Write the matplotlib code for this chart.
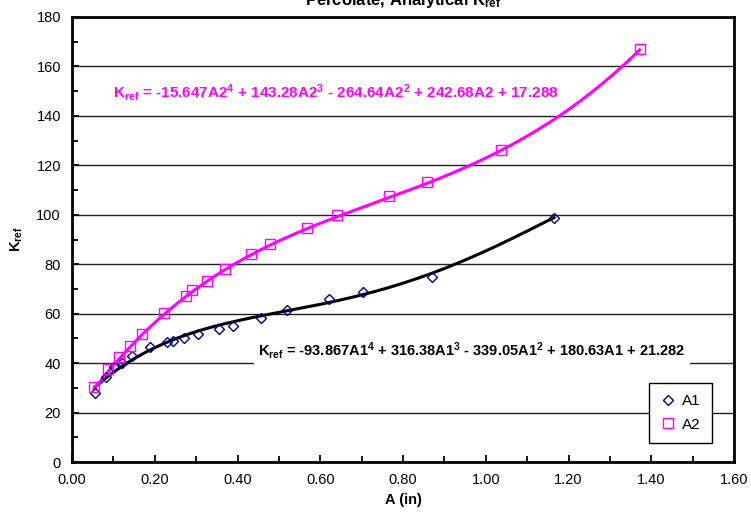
import numpy as np
import matplotlib
matplotlib.use("Agg")
import matplotlib.pyplot as plt
from matplotlib.ticker import MultipleLocator, FormatStrFormatter

plt.rcParams['font.family'] = ['Liberation Sans', 'DejaVu Sans']

# Data
a1_x = [0.056, 0.081, 0.102, 0.121, 0.146, 0.189, 0.229, 0.243, 0.270, 0.305,
        0.355, 0.388, 0.458, 0.519, 0.622, 0.703, 0.871, 1.165]
a1_y = [27.8, 34.3, 38.6, 39.9, 43.0, 46.4, 48.4, 49.1, 50.2, 51.7,
        53.7, 55.2, 58.1, 61.5, 65.9, 68.9, 74.7, 98.8]
a2_x = [0.054, 0.088, 0.114, 0.139, 0.168, 0.222, 0.276, 0.291, 0.326, 0.369,
        0.433, 0.479, 0.569, 0.641, 0.767, 0.857, 1.037, 1.372]
a2_y = [30.2, 37.5, 42.4, 46.9, 51.8, 60.1, 67.2, 69.6, 73.1, 78.2,
        84.1, 88.1, 94.5, 99.9, 107.6, 113.1, 126.1, 167.1]

# Trendline coefficients as displayed (highest power first)
a1_coef = [-93.867, 316.38, -339.05, 180.63, 21.282]
a2_coef = [-15.647, 143.28, -264.64, 242.68, 17.288]

a1_eq = r"K$_{\mathbf{ref}}$ = -93.867A1$^{\mathbf{4}}$ + 316.38A1$^{\mathbf{3}}$ - 339.05A1$^{\mathbf{2}}$ + 180.63A1 + 21.282"
a2_eq = r"K$_{\mathbf{ref}}$ = -15.647A2$^{\mathbf{4}}$ + 143.28A2$^{\mathbf{3}}$ - 264.64A2$^{\mathbf{2}}$ + 242.68A2 + 17.288"

plt.rcParams['mathtext.fontset'] = 'custom'
plt.rcParams['mathtext.rm'] = 'Liberation Sans'
plt.rcParams['mathtext.bf'] = 'Liberation Sans:bold'
plt.rcParams['mathtext.it'] = 'Liberation Sans:italic'

W, H = 751, 519
fig = plt.figure(figsize=(W / 100, H / 100), dpi=100)
ax = fig.add_axes([72 / W, 1 - 462 / H, (734 - 72) / W, (462 - 17) / H])

ax.set_xlim(0, 1.6)
ax.set_ylim(0, 180)
ax.yaxis.set_major_locator(MultipleLocator(20))
ax.yaxis.set_minor_locator(MultipleLocator(10))
ax.xaxis.set_major_locator(MultipleLocator(0.2))
ax.xaxis.set_minor_locator(MultipleLocator(0.1))
ax.xaxis.set_major_formatter(FormatStrFormatter('%.2f'))
ax.tick_params(which='both', direction='in', labelsize=10.5, width=1.3)
ax.tick_params(which='major', length=5, pad=8)
ax.tick_params(which='minor', length=4)
ax.tick_params(axis='y', which='major', pad=8)
for s in ax.spines.values():
    s.set_linewidth(2)
ax.yaxis.grid(True, color='#222222', linewidth=1)
ax.set_axisbelow(True)

# trendlines
xs1 = np.linspace(min(a1_x), max(a1_x), 200)
xs2 = np.linspace(min(a2_x), max(a2_x), 200)
ax.plot(xs1, np.polyval(a1_coef, xs1), color='black', lw=2.2, zorder=3)
ax.plot(xs2, np.polyval(a2_coef, xs2), color='#FF00FF', lw=2.2, zorder=3)

ax.plot(a1_x, a1_y, linestyle='none', marker='D', markersize=5.5, mfc='none',
        mec='#000080', mew=1.0, label='A1', zorder=4)
ax.plot(a2_x, a2_y, linestyle='none', marker='s', markersize=6.5, mfc='none',
        mec='#FF00FF', mew=1.0, label='A2', zorder=4)

ax.text(0.099, 149.3, a2_eq, color='#FF00FF', fontsize=11, fontweight='bold',
        va='center', ha='left', zorder=5)
ax.text(0.450, 45.3, a1_eq, color='black', fontsize=10.5, fontweight='bold',
        va='center', ha='left', zorder=5,
        bbox=dict(facecolor='white', edgecolor='none', pad=3))

leg = ax.legend(loc='lower right', bbox_to_anchor=(712 / W, 1 - 443 / H),
                bbox_transform=fig.transFigure, fancybox=False,
                edgecolor='black', framealpha=1, fontsize=11,
                handlelength=1.0, handletextpad=0.4, borderpad=0.75,
                labelspacing=0.6, borderaxespad=0)
leg.get_frame().set_linewidth(1.0)
leg.set_zorder(6)

ax.set_xlabel('A (in)', fontsize=10.5, fontweight='bold', labelpad=4)
ax.set_ylabel(r'K$_{\mathbf{ref}}$', fontsize=10.5, fontweight='bold', labelpad=8)

fig.text(403 / W, 1 - 5 / H, r'Percolate, Analytical K$_{\mathbf{ref}}$',
         fontsize=12, fontweight='bold', ha='center', va='baseline')

fig.savefig('out.png', dpi=100)
